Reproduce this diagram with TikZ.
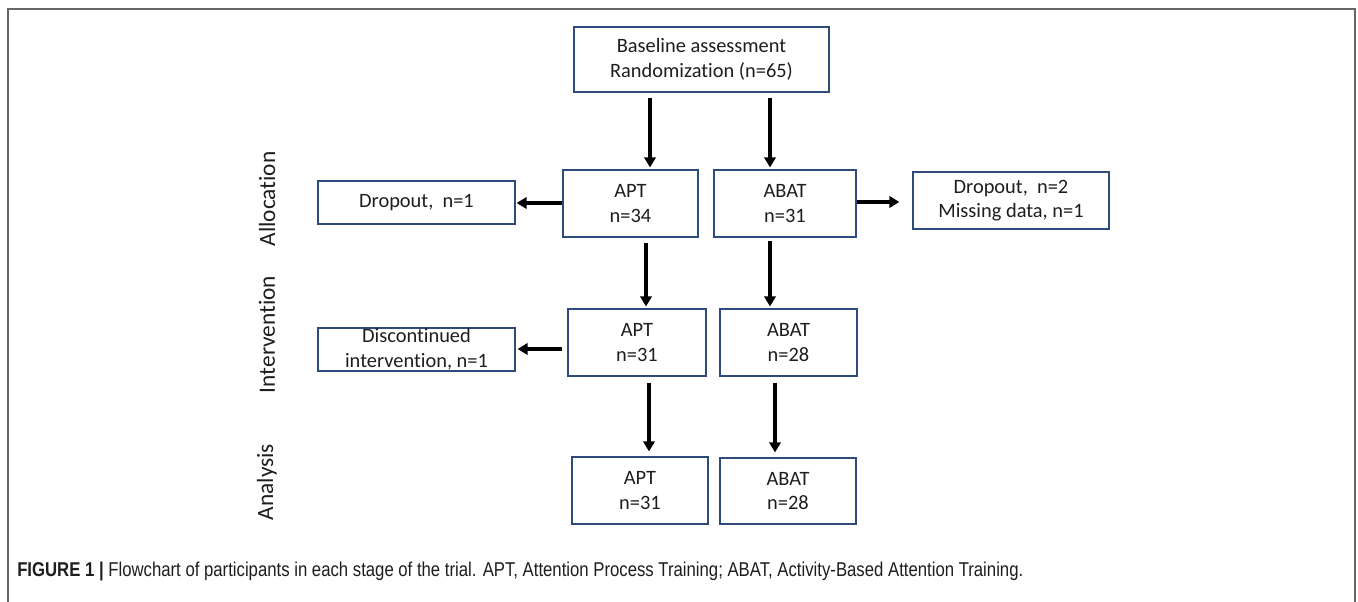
\documentclass[tikz,border=0pt]{standalone}
\usepackage{fontspec}
\setmainfont{Carlito}[Ligatures={NoCommon}]
\newfontfamily\capfont{Liberation Sans}
\usetikzlibrary{arrows.meta}
\definecolor{boxblue}{HTML}{2F4B7C}
\definecolor{framegray}{HTML}{666666}
\definecolor{txt}{HTML}{1E1E1E}
\tikzset{
  box/.style={draw=boxblue, line width=0.9pt, inner sep=0pt, align=center, text=txt,
    font=\fontsize{15.3}{18.5}\selectfont},
  arr/.style={line width=2.6pt, -{Triangle[length=7.5pt,width=8.5pt]}},
  stage/.style={rotate=90, text=txt, font=\fontsize{17.5}{20}\selectfont},
}
\begin{document}
\begin{tikzpicture}[x=0.75pt, y=-0.75pt]
\useasboundingbox (0,0) rectangle (1358,602);
\fill[white] (0,0) rectangle (1358,602);
% frame
\draw[framegray, line width=1.3pt] (8,602) -- (8,9) -- (1355,9) -- (1355,602);
% boxes
\node[box, minimum width=191.25pt, minimum height=48.75pt] (base) at (701.5,59.5) {Baseline assessment\\Randomization (n=65)};
\node[box, minimum width=101.25pt, minimum height=50.25pt] (aptA) at (630.5,203.5) {APT\\n=34};
\node[box, minimum width=106.5pt, minimum height=50.25pt] (abatA) at (785,203.5) {ABAT\\n=31};
\node[box, minimum width=147.75pt, minimum height=32.25pt] (dropL) at (416.5,202.5) {Dropout,\ \ n=1};
\node[box, minimum width=147pt, minimum height=42.75pt] (dropR) at (1011,200.5) {Dropout,\ \ n=2\\Missing data, n=1};
\node[box, minimum width=103.5pt, minimum height=50.25pt] (aptI) at (637,342.5) {APT\\n=31};
\node[box, minimum width=102.75pt, minimum height=50.25pt] (abatI) at (788.5,342.5) {ABAT\\n=28};
\node[box, minimum width=147.75pt, minimum height=32.25pt] (disc) at (416.5,349.5) {Discontinued\\intervention, n=1};
\node[box, minimum width=102pt, minimum height=50.25pt] (aptN) at (640,490.5) {APT\\n=31};
\node[box, minimum width=102pt, minimum height=49.5pt] (abatN) at (788,491) {ABAT\\n=28};
% stage labels
\node[stage] (lalloc) at (267,199) {Allocation};
\node[stage] (linter) at (267,334.5) {Intervention};
\node[stage] (lanal) at (267,482) {Analysis};
% helper coordinates
\coordinate (xa1) at (650,0);
\coordinate (xb1) at (770,0);
\coordinate (xa2) at (646,0);
\coordinate (xb2) at (770,0);
\coordinate (xa3) at (649,0);
\coordinate (xb3) at (775,0);
\coordinate (ya1) at (0,203);
\coordinate (yb1) at (0,202);
\coordinate (ya2) at (0,349);
% arrows
\draw[arr, shorten <=3.75pt, shorten >=1.5pt] (base.south -| xa1) -- (aptA.north -| xa1);
\draw[arr, shorten <=3.75pt, shorten >=1.5pt] (base.south -| xb1) -- (abatA.north -| xb1);
\draw[arr, shorten >=0.75pt] (aptA.west |- ya1) -- (dropL.east |- ya1);
\draw[arr, shorten >=9.75pt] (abatA.east |- yb1) -- (dropR.west |- yb1);
\draw[arr, shorten <=3.75pt, shorten >=1.5pt] (aptA.south -| xa2) -- (aptI.north -| xa2);
\draw[arr, shorten <=2.25pt, shorten >=1.5pt] (abatA.south -| xb2) -- (abatI.north -| xb2);
\draw[arr, shorten <=3.75pt, shorten >=1.5pt] (aptI.west |- ya2) -- (disc.east |- ya2);
\draw[arr, shorten <=4.5pt, shorten >=3.75pt] (aptI.south -| xa3) -- (aptN.north -| xa3);
\draw[arr, shorten <=4.5pt, shorten >=3.75pt] (abatI.south -| xb3) -- (abatN.north -| xb3);
% caption
\node[anchor=west, inner sep=0pt, text=txt, font=\capfont\fontsize{15}{17}\selectfont] (cap) at (17,571)
  {\resizebox{754.5pt}{\height}{\textbf{FIGURE 1 |} Flowchart of participants in each stage of the trial. APT, Attention Process Training; ABAT, Activity-Based Attention Training.}};
\end{tikzpicture}
\end{document}
